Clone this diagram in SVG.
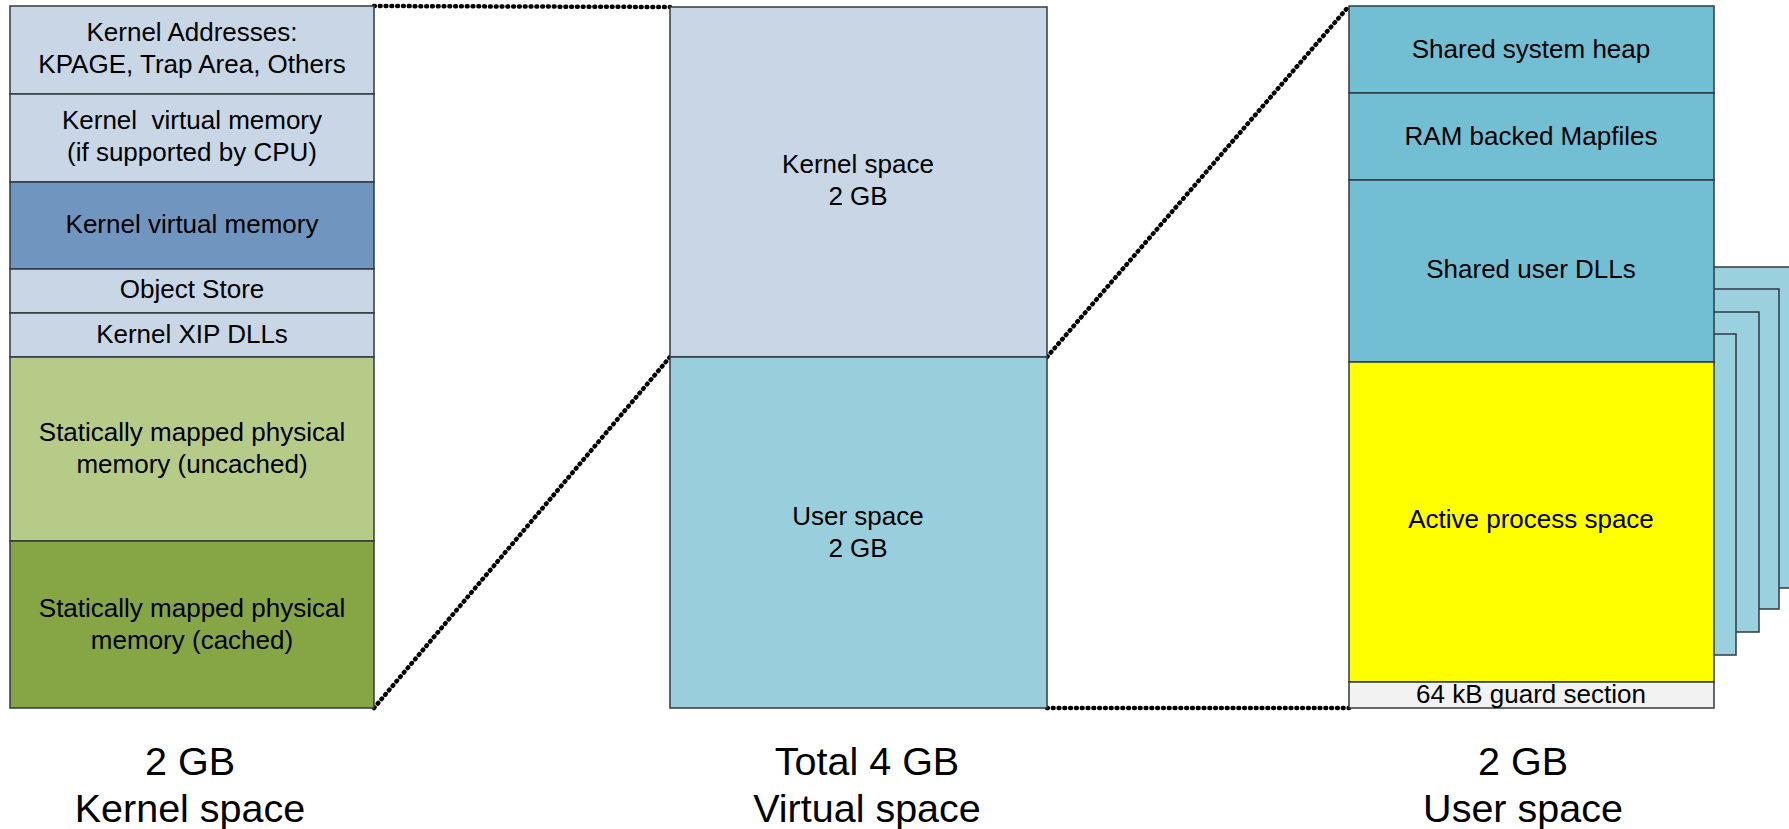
<svg xmlns="http://www.w3.org/2000/svg" width="1789" height="829" viewBox="0 0 1789 829">
<style>
.b{stroke:#2f3a40;stroke-width:1.5}
.t{font-family:"Liberation Sans",Arial,sans-serif;font-size:26px;fill:#000;text-anchor:middle}
.big{font-family:"Liberation Sans",Arial,sans-serif;font-size:39.5px;fill:#000;text-anchor:middle}
.lk{fill:#c8d6e5}.kd{fill:#7096c0}.gl{fill:#b7cb88}.gd{fill:#86a545}
.us{fill:#99cfdd}.tl{fill:#72bed2}.ye{fill:#ffff00}.gu{fill:#f2f2f2}.pg{fill:#9bd0de}
.dot{fill:none;stroke:#000;stroke-width:4.5;stroke-linecap:round;stroke-dasharray:0.8 5}
</style>
<rect width="1789" height="829" fill="#fff"/>
<g id="connectors">
<line class="dot" x1="374" y1="6" x2="670" y2="7"/>
<line class="dot" x1="374" y1="708" x2="670" y2="357"/>
<line class="dot" x1="1047" y1="357" x2="1349" y2="6"/>
<line class="dot" x1="1047" y1="708" x2="1349" y2="708"/>
</g>
<g id="kernel-column">
<g id="k1"><rect class="b lk" x="10" y="6" width="364" height="88"/><text class="t" x="192" y="41">Kernel Addresses:</text><text class="t" x="192" y="73">KPAGE, Trap Area, Others</text></g>
<g id="k2"><rect class="b lk" x="10" y="94" width="364" height="88"/><text class="t" x="192" y="129" xml:space="preserve">Kernel  virtual memory</text><text class="t" x="192" y="161">(if supported by CPU)</text></g>
<g id="k3"><rect class="b kd" x="10" y="182" width="364" height="87"/><text class="t" x="192" y="233">Kernel virtual memory</text></g>
<g id="k4"><rect class="b lk" x="10" y="269" width="364" height="44"/><text class="t" x="192" y="298">Object Store</text></g>
<g id="k5"><rect class="b lk" x="10" y="313" width="364" height="44"/><text class="t" x="192" y="343">Kernel XIP DLLs</text></g>
<g id="k6"><rect class="b gl" x="10" y="357" width="364" height="184"/><text class="t" x="192" y="441">Statically mapped physical</text><text class="t" x="192" y="473">memory (uncached)</text></g>
<g id="k7"><rect class="b gd" x="10" y="541" width="364" height="167"/><text class="t" x="192" y="617">Statically mapped physical</text><text class="t" x="192" y="649">memory (cached)</text></g>
</g>
<g id="virtual-column">
<g id="v1"><rect class="b lk" x="670" y="7" width="377" height="350"/><text class="t" x="858" y="173">Kernel space</text><text class="t" x="858" y="205">2 GB</text></g>
<g id="v2"><rect class="b us" x="670" y="357" width="377" height="351"/><text class="t" x="858" y="525">User space</text><text class="t" x="858" y="557">2 GB</text></g>
</g>
<g id="process-pages">
<rect class="b pg" x="1437" y="267" width="365" height="321"/>
<rect class="b pg" x="1414" y="289" width="365" height="320"/>
<rect class="b pg" x="1394" y="312" width="365" height="320"/>
<rect class="b pg" x="1371" y="334" width="365" height="321"/>
</g>
<g id="user-column">
<g id="u1"><rect class="b tl" x="1349" y="6" width="365" height="87"/><text class="t" x="1531" y="58">Shared system heap</text></g>
<g id="u2"><rect class="b tl" x="1349" y="93" width="365" height="87"/><text class="t" x="1531" y="145">RAM backed Mapfiles</text></g>
<g id="u3"><rect class="b tl" x="1349" y="180" width="365" height="182"/><text class="t" x="1531" y="278">Shared user DLLs</text></g>
<g id="u4"><rect class="b ye" x="1349" y="362" width="365" height="320"/><text class="t" x="1531" y="528">Active process space</text></g>
<g id="u5"><rect class="b gu" x="1349" y="682" width="365" height="26"/><text class="t" x="1531" y="703">64 kB guard section</text></g>
</g>
<g id="captions">
<text class="big" x="190" y="775">2 GB</text><text class="big" x="190" y="822">Kernel space</text>
<text class="big" x="867" y="775">Total 4 GB</text><text class="big" x="867" y="822">Virtual space</text>
<text class="big" x="1523" y="775">2 GB</text><text class="big" x="1523" y="822">User space</text>
</g>
</svg>
